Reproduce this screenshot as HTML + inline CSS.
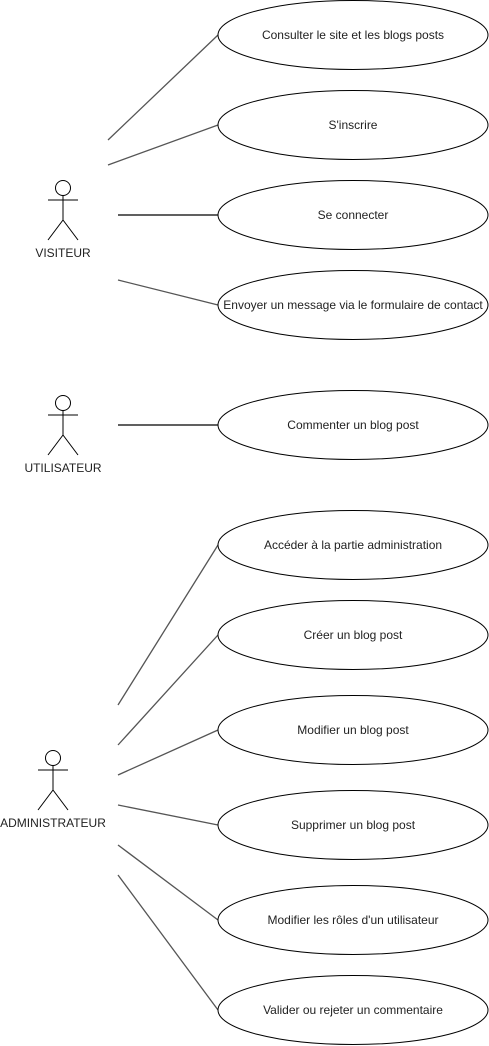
<!DOCTYPE html>
<html><head><meta charset="utf-8"><style>html,body{margin:0;padding:0;background:#fff}svg{display:block}</style></head>
<body>
<svg width="489" height="1046" viewBox="0 0 489 1046" xmlns="http://www.w3.org/2000/svg" font-family="Liberation Sans, sans-serif" font-size="12">
<g stroke="#555" stroke-width="1.3" fill="none">
<line x1="108" y1="140" x2="218" y2="35"/>
<line x1="108" y1="165" x2="218" y2="125"/>
<line x1="118" y1="215" x2="218" y2="215" stroke="#000"/>
<line x1="118" y1="280" x2="218" y2="305"/>
<line x1="118" y1="425" x2="218" y2="425" stroke="#000"/>
<line x1="118" y1="705" x2="218" y2="545"/>
<line x1="118" y1="745" x2="218" y2="635"/>
<line x1="118" y1="775" x2="218" y2="730"/>
<line x1="118" y1="805" x2="218" y2="825"/>
<line x1="118" y1="845" x2="218" y2="920"/>
<line x1="118" y1="875" x2="218" y2="1010"/>
</g>
<g stroke="#000" stroke-width="1" fill="#fff">
<ellipse cx="353" cy="35" rx="135" ry="34.5"/>
<ellipse cx="353" cy="125" rx="135" ry="34.5"/>
<ellipse cx="353" cy="215" rx="135" ry="34.5"/>
<ellipse cx="353" cy="305" rx="135" ry="34.5"/>
<ellipse cx="353" cy="425" rx="135" ry="34.5"/>
<ellipse cx="353" cy="545" rx="135" ry="34.5"/>
<ellipse cx="353" cy="635" rx="135" ry="34.5"/>
<ellipse cx="353" cy="730" rx="135" ry="34.5"/>
<ellipse cx="353" cy="825" rx="135" ry="34.5"/>
<ellipse cx="353" cy="920" rx="135" ry="34.5"/>
<ellipse cx="353" cy="1010" rx="135" ry="34.5"/>
</g>
<g fill="#222" text-anchor="middle">
<text x="353" y="39">Consulter le site et les blogs posts</text>
<text x="353" y="129">S'inscrire</text>
<text x="353" y="219">Se connecter</text>
<text x="353" y="309">Envoyer un message via le formulaire de contact</text>
<text x="353" y="429">Commenter un blog post</text>
<text x="353" y="549">Accéder à la partie administration</text>
<text x="353" y="639">Créer un blog post</text>
<text x="353" y="734">Modifier un blog post</text>
<text x="353" y="829">Supprimer un blog post</text>
<text x="353" y="924">Modifier les rôles d'un utilisateur</text>
<text x="353" y="1014">Valider ou rejeter un commentaire</text>
</g>
<g stroke="#000" stroke-width="1" fill="#fff">
<g transform="translate(63,188)"><circle cx="0" cy="0" r="7.5"/><line x1="-15" y1="12" x2="15" y2="12"/><line x1="0" y1="7.5" x2="0" y2="32"/><line x1="0" y1="32" x2="-15" y2="52"/><line x1="0" y1="32" x2="15" y2="52"/></g>
<g transform="translate(63,403)"><circle cx="0" cy="0" r="7.5"/><line x1="-15" y1="12" x2="15" y2="12"/><line x1="0" y1="7.5" x2="0" y2="32"/><line x1="0" y1="32" x2="-15" y2="52"/><line x1="0" y1="32" x2="15" y2="52"/></g>
<g transform="translate(53,758)"><circle cx="0" cy="0" r="7.5"/><line x1="-15" y1="12" x2="15" y2="12"/><line x1="0" y1="7.5" x2="0" y2="32"/><line x1="0" y1="32" x2="-15" y2="52"/><line x1="0" y1="32" x2="15" y2="52"/></g>
</g>
<g fill="#222" text-anchor="middle">
<text x="63" y="257">VISITEUR</text>
<text x="63" y="472">UTILISATEUR</text>
<text x="53" y="827">ADMINISTRATEUR</text>
</g>
</svg>
</body></html>
